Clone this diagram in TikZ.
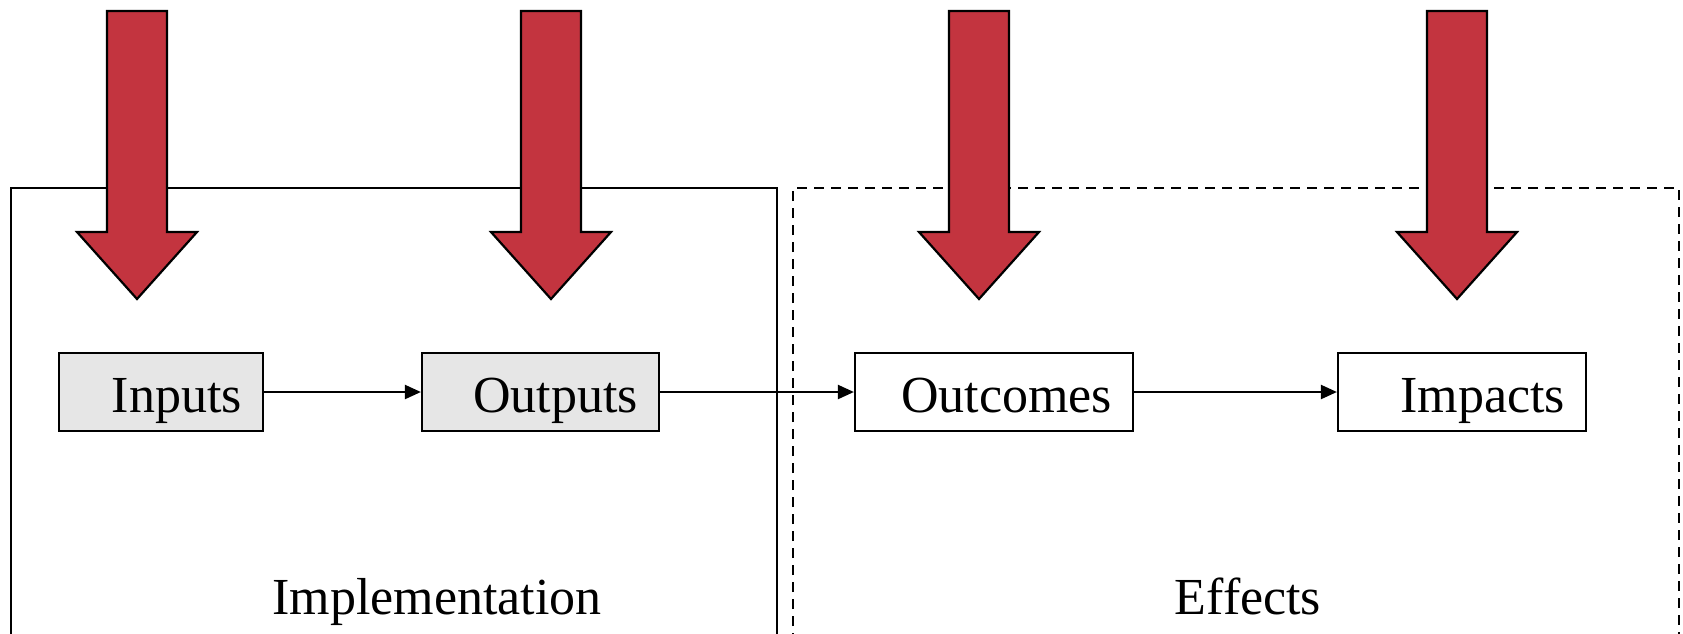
\documentclass[tikz,border=0pt]{standalone}
\usepackage{fontspec}
\setmainfont{Liberation Serif}
\usetikzlibrary{arrows.meta}
\definecolor{arrowred}{RGB}{195,52,63}
\definecolor{boxgrey}{RGB}{230,230,230}
\tikzset{
  stagebox/.style={draw=black, line width=2.2pt, minimum height=78pt, inner sep=0pt},
  stagetext/.style={anchor=base east, inner sep=0pt, font=\fontsize{52}{60}\selectfont},
  areatext/.style={anchor=base, inner sep=0pt, font=\fontsize{52}{60}\selectfont},
  flow/.style={line width=2.2pt, -{Triangle[length=16pt,width=14pt]}},
  bigarrow/.style={fill=arrowred, draw=black, line width=2.2pt, line join=miter},
}
% big downward arrow centred at x
\newcommand{\downarrowat}[1]{%
  \draw[bigarrow] (#1-30,-11) -- (#1+30,-11) -- (#1+30,-232) -- (#1+60,-232)
    -- (#1,-299) -- (#1-60,-232) -- (#1-30,-232) -- cycle;}
\begin{document}
\begin{tikzpicture}[x=1pt,y=1pt]
  \useasboundingbox (0,0) rectangle (1683,-633);
  \clip (0,0) rectangle (1683,-633);
  % the two areas
  \draw[line width=2.2pt] (11,-660) -- (11,-188) -- (777,-188) -- (777,-660);
  \draw[line width=2.2pt, dash pattern=on 10pt off 7pt] (793,-660) -- (793,-188) -- (1679,-188) -- (1679,-660);
  \node[areatext] (impl) at (437,-614) {Implementation};
  \node[areatext] (eff) at (1248,-614) {Effects};
  % red arrows
  \downarrowat{137}
  \downarrowat{551}
  \downarrowat{979}
  \downarrowat{1457}
  % stage boxes
  \node[stagebox, fill=boxgrey, minimum width=204pt] (in) at (161,-392) {};
  \node[stagebox, fill=boxgrey, minimum width=237pt] (out) at (540.5,-392) {};
  \node[stagebox, fill=white, minimum width=278pt] (oc) at (994,-392) {};
  \node[stagebox, fill=white, minimum width=248pt] (im) at (1462,-392) {};
  \node[stagetext] (intxt) at ([xshift=-22pt,yshift=-20pt]in.east) {Inputs};
  \node[stagetext] (outtxt) at ([xshift=-22pt,yshift=-20pt]out.east) {Outputs};
  \node[stagetext] (octxt) at ([xshift=-22pt,yshift=-20pt]oc.east) {Outcomes};
  \node[stagetext] (imtxt) at ([xshift=-22pt,yshift=-20pt]im.east) {Impacts};
  % connectors
  \draw[flow] (in.east) -- (out.west);
  \draw[flow] (out.east) -- (oc.west);
  \draw[flow] (oc.east) -- (im.west);
\end{tikzpicture}
\end{document}
